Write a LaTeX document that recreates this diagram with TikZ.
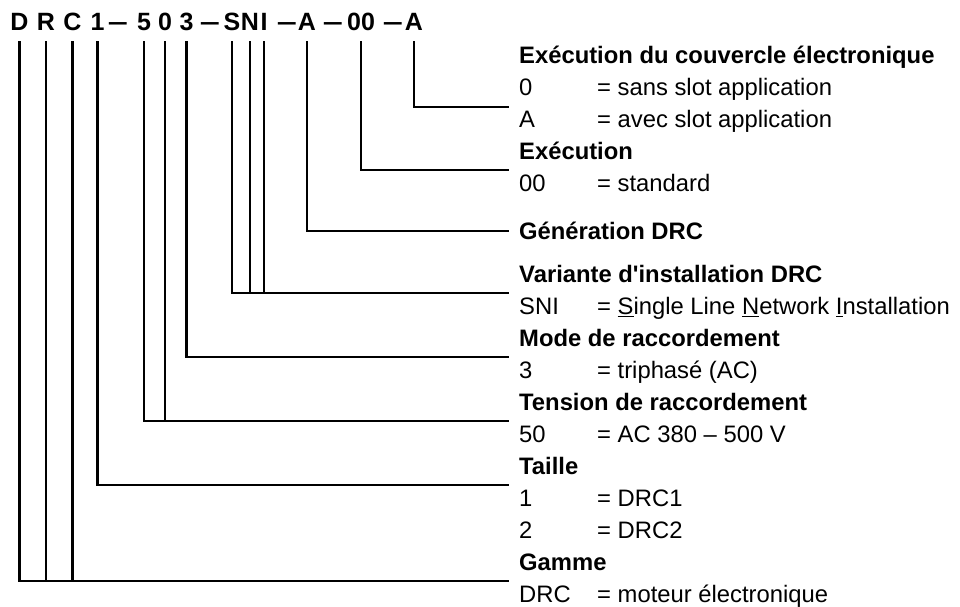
\documentclass[tikz,border=0pt]{standalone}
\usepackage{fontspec}
\setmainfont{Liberation Sans}

\begin{document}
\begin{tikzpicture}[
        x=1pt, y=-1pt,
        codechar/.style={font=\fontsize{25}{30}\selectfont\bfseries, inner sep=0pt, anchor=base},
        codedash/.style={codechar, execute at begin node={\scalebox{1.44}[1]\bgroup}, execute at end node={\egroup}},
        heading/.style={font=\fontsize{23.8}{28}\selectfont\bfseries, inner sep=0pt, anchor=base west},
        keytext/.style={font=\fontsize{23.8}{28}\selectfont, inner sep=0pt, anchor=base west},
        valtext/.style={font=\fontsize{23.8}{28}\selectfont, inner sep=0pt, anchor=base west},
        leader/.style={line width=2.2pt}
    ]
        \useasboundingbox (0,0) rectangle (960,607);

        \node[codechar] (cD) at (19.5, 31) {D};
        \node[codechar] (cR) at (46, 31) {R};
        \node[codechar] (cC) at (72.5, 31) {C};
        \node[codechar] (cSize) at (97.5, 31) {1};
        \node[codechar] (dash1) at (118, 31) {\scalebox{1.44}[1]{–}};
        \node[codechar] (cFive) at (144, 31) {5};
        \node[codechar] (cZero) at (165, 31) {0};
        \node[codechar] (cThree) at (186.5, 31) {3};
        \node[codechar] (dash2) at (210, 31) {\scalebox{1.44}[1]{–}};
        \node[codechar] (cS) at (232, 31) {S};
        \node[codechar] (cN) at (250, 31) {N};
        \node[codechar] (cI) at (264, 31) {I};
        \node[codechar] (dash3) at (287, 31) {\scalebox{1.44}[1]{–}};
        \node[codechar] (cGen) at (307, 31) {A};
        \node[codechar] (dash4) at (333, 31) {\scalebox{1.44}[1]{–}};
        \node[codechar] (cExec) at (361, 31) {00};
        \node[codechar] (dash5) at (393, 31) {\scalebox{1.44}[1]{–}};
        \node[codechar] (cCover) at (414, 31) {A};

        \node[heading] (hCover) at (519, 63.5) {Exécution du couvercle électronique};
        \node[keytext] (kCover0) at (519, 95.5) {0};
        \node[valtext] (vCover0) at (597, 95.5) {= sans slot application};
        \node[keytext] (kCoverA) at (519, 127.5) {A};
        \node[valtext] (vCoverA) at (597, 127.5) {= avec slot application};
        \node[heading] (hExec) at (519, 159.5) {Exécution};
        \node[keytext] (kExec) at (519, 191.5) {00};
        \node[valtext] (vExec) at (597, 191.5) {= standard};
        \node[heading] (hGen) at (519, 239.5) {Génération DRC};
        \node[heading] (hInst) at (519, 282.5) {Variante d\textquotesingle installation DRC};
        \node[keytext] (kInst) at (519, 314.5) {SNI};
        \node[valtext] (vInst) at (597, 314.5) {= \underline{S}ingle Line \underline{N}etwork \underline{I}nstallation};
        \node[heading] (hMode) at (519, 346.5) {Mode de raccordement};
        \node[keytext] (kMode) at (519, 378.5) {3};
        \node[valtext] (vMode) at (597, 378.5) {= triphasé (AC)};
        \node[heading] (hVolt) at (519, 410.5) {Tension de raccordement};
        \node[keytext] (kVolt) at (519, 442.5) {50};
        \node[valtext] (vVolt) at (597, 442.5) {= AC 380 – 500 V};
        \node[heading] (hSize) at (519, 474.5) {Taille};
        \node[keytext] (kSize1) at (519, 506.5) {1};
        \node[valtext] (vSize1) at (597, 506.5) {= DRC1};
        \node[keytext] (kSize2) at (519, 538.5) {2};
        \node[valtext] (vSize2) at (597, 538.5) {= DRC2};
        \node[heading] (hRange) at (519, 570.5) {Gamme};
        \node[keytext] (kRange) at (519, 602.5) {DRC};
        \node[valtext] (vRange) at (597, 602.5) {= moteur électronique};

        \coordinate (eCover) at (509, 107);
        \coordinate (eExec) at (509, 170);
        \coordinate (eGen) at (509, 231);
        \coordinate (eInst) at (509, 293);
        \coordinate (eMode) at (509, 357);
        \coordinate (eVolt) at (509, 421);
        \coordinate (eSize) at (509, 485);
        \coordinate (eRange) at (509, 581);

        \draw[leader] ([yshift=-10pt]cCover.south) |- (eCover);
        \draw[leader] ([yshift=-10pt]cExec.south) |- (eExec);
        \draw[leader] ([yshift=-10pt]cGen.south) |- (eGen);
        \draw[leader] ([yshift=-10pt]cS.south) |- (eInst);
        \draw[leader] ([yshift=-10pt]cN.south) -- (cN.south |- eInst);
        \draw[leader] ([yshift=-10pt]cI.south) -- (cI.south |- eInst);
        \draw[leader] ([yshift=-10pt]cThree.south) |- (eMode);
        \draw[leader] ([yshift=-10pt]cFive.south) |- (eVolt);
        \draw[leader] ([yshift=-10pt]cZero.south) -- (cZero.south |- eVolt);
        \draw[leader] ([yshift=-10pt]cSize.south) |- (eSize);
        \draw[leader] ([yshift=-10pt]cD.south) |- (eRange);
        \draw[leader] ([yshift=-10pt]cR.south) -- (cR.south |- eRange);
        \draw[leader] ([yshift=-10pt]cC.south) -- (cC.south |- eRange);
    \end{tikzpicture}
\end{document}
